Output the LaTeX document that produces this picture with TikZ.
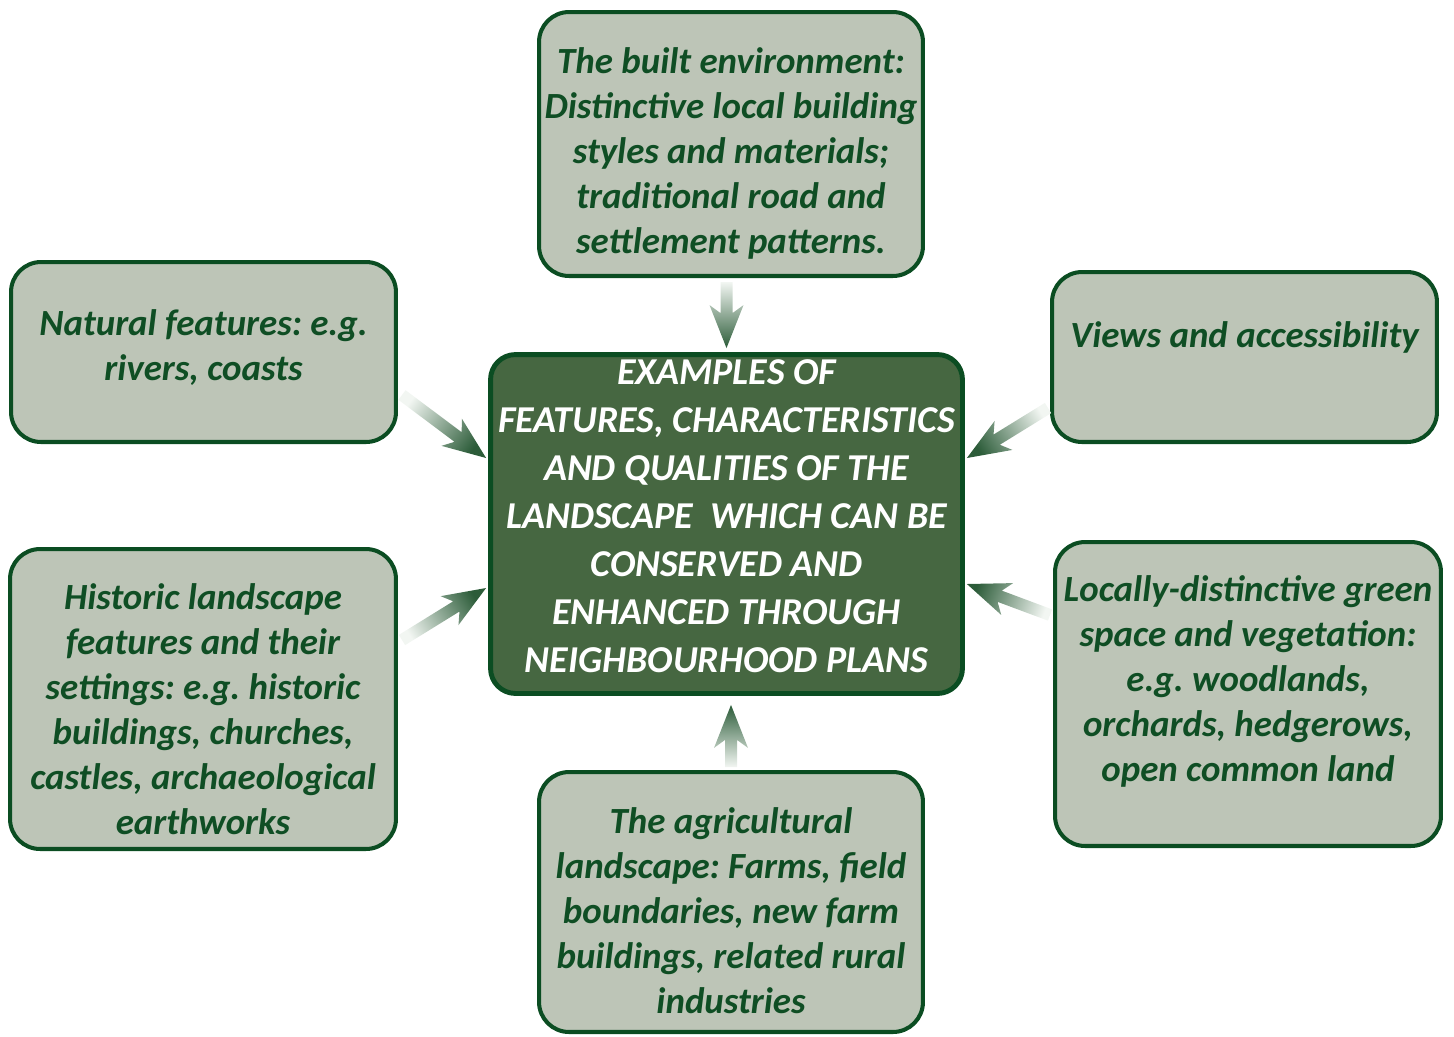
\documentclass[tikz,border=0pt]{standalone}
\usepackage{fontspec}
\setmainfont{Carlito}
\usetikzlibrary{calc}
\frenchspacing

\definecolor{boxfill}{HTML}{BDC5B7}
\definecolor{boxline}{HTML}{0B4D22}
\definecolor{boxtext}{HTML}{0F4E24}
\definecolor{centrefill}{HTML}{466741}
\definecolor{arrowdark}{HTML}{2C5C39}
\definecolor{arrowlight}{HTML}{F2F6F2}

\begin{document}
\begin{tikzpicture}[x=0.02cm, y=-0.02cm,
	box/.style={draw=boxline, line width=2.3pt, fill=boxfill, rounded corners=0.6cm, inner sep=0pt},
	boxtext/.style={text=boxtext, align=center, font=\fontsize{21}{25.6}\selectfont\bfseries\itshape},
	centretext/.style={text=white, align=center, font=\fontsize{21.6}{27.3}\selectfont\bfseries\itshape}]
		%page size
		\useasboundingbox (0,0) rectangle (1454,1036);
		
		%boxes
		\node [box, fill=centrefill, line width=2.8pt, rounded corners=0.5cm, minimum width=9.44cm, minimum height=6.78cm] (centre) at (726.5,524) {};
		\node [box, minimum width=7.68cm, minimum height=5.28cm] (built) at (731,144) {};
		\node [box, minimum width=7.7cm, minimum height=3.6cm] (nat) at (203.5,352) {};
		\node [box, minimum width=7.7cm, minimum height=3.4cm] (views) at (1244.5,357) {};
		\node [box, minimum width=7.72cm, minimum height=6.0cm] (hist) at (203,699) {};
		\node [box, minimum width=7.72cm, minimum height=6.08cm] (green) at (1248,694) {};
		\node [box, minimum width=7.68cm, minimum height=5.2cm] (agri) at (731,902) {};
		
		%texts
		\node [centretext] (centre text) at ($(centre)+(0,-8)$) {EXAMPLES OF\\FEATURES, CHARACTERISTICS\\AND QUALITIES OF THE\\LANDSCAPE\ \ WHICH CAN BE\\CONSERVED AND\\ENHANCED THROUGH\\NEIGHBOURHOOD PLANS};
		\node [boxtext] (built text) at ($(built)+(0,9)$) {The built environment:\\Distinctive local building\\styles and materials;\\traditional road and\\settlement patterns.};
		\node [boxtext] (nat text) at ($(nat)+(0,-4)$) {Natural features: e.g.\\rivers, coasts};
		\node [boxtext] (views text) at ($(views)+(0,-20)$) {Views and accessibility};
		\node [boxtext] (hist text) at ($(hist)+(0,10)$) {Historic landscape\\features and their\\settings: e.g. historic\\buildings, churches,\\castles, archaeological\\earthworks};
		\node [boxtext] (green text) at ($(green)+(0,-13)$) {Locally-distinctive green\\space and vegetation:\\e.g. woodlands,\\orchards, hedgerows,\\open common land};
		\node [boxtext] (agri text) at ($(agri)+(0,9)$) {The agricultural\\landscape: Farms, field\\boundaries, new farm\\buildings, related rural\\industries};
		
		%arrow ends
		\coordinate (built tail) at ($(built.south -| centre.north)+(0,4)$);
		\coordinate (built tip) at ($(centre.north)+(0,-4)$);
		\coordinate (nat tail) at ($(nat.east)+(4,43)$);
		\coordinate (nat tip) at ($(centre.west)+(-2,-66)$);
		\coordinate (views tail) at ($(views.west)+(-2,51)$);
		\coordinate (views tip) at ($(centre.east)+(2,-66)$);
		\coordinate (hist tail) at ($(hist.east)+(4,-59)$);
		\coordinate (hist tip) at ($(centre.west)+(-2,64)$);
		\coordinate (green tail) at ($(green.west)+(-3,-79)$);
		\coordinate (green tip) at ($(centre.east)+(2,60)$);
		\coordinate (agri tail) at ($(agri.north)+(0,-3)$);
		\coordinate (agri tip) at ($(agri.north |- centre.south)+(0,9)$);
		
		%shaded block arrows: tail, tip, shading angle
		\def\fadearrow#1#2#3{
			\coordinate (neck) at ($(#2)!0.7cm!(#1)$);
			\coordinate (barb) at ($(#2)!0.86cm!(#1)$);
			\shade [top color=arrowdark, bottom color=arrowlight, shading angle=#3]
				($(#1)!0.12cm!90:(#2)$) -- ($(neck)!0.12cm!90:(#2)$) -- ($(barb)!0.34cm!90:(#2)$) -- (#2)
				-- ($(barb)!0.34cm!-90:(#2)$) -- ($(neck)!0.12cm!-90:(#2)$) -- ($(#1)!0.12cm!-90:(#2)$) -- cycle;
		}
		\fadearrow{built tail}{built tip}{180}
		\fadearrow{nat tail}{nat tip}{-127}
		\fadearrow{views tail}{views tip}{122}
		\fadearrow{hist tail}{hist tip}{-58}
		\fadearrow{green tail}{green tip}{70}
		\fadearrow{agri tail}{agri tip}{0}
	\end{tikzpicture}
\end{document}
